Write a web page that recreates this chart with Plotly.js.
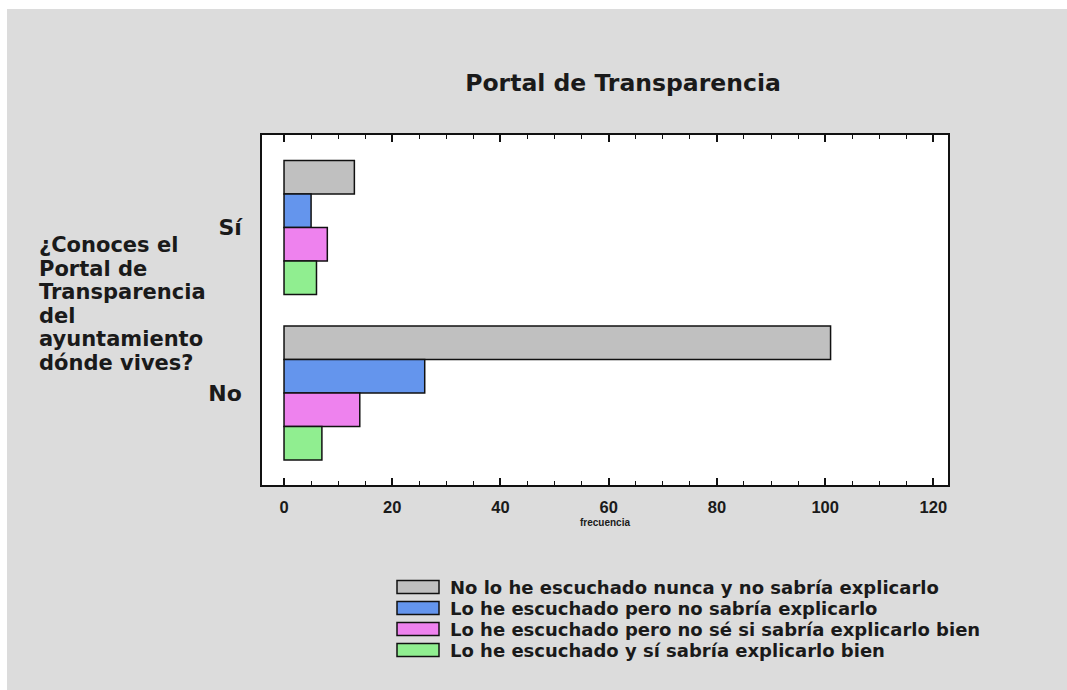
<!DOCTYPE html>
<html>
<head>
<meta charset="utf-8">
<script src="https://cdn.plot.ly/plotly-3.0.1.min.js"></script>
<style>html,body{margin:0;padding:0;background:#fff;}</style>
</head>
<body>
<div id="chart" style="width:1067px;height:690px;"></div>
<script>
// ---- data ----
const categories = ['Sí', 'No'];
const seriesNames = [
  'No lo he escuchado nunca y no sabría explicarlo',
  'Lo he escuchado pero no sabría explicarlo',
  'Lo he escuchado pero no sé si sabría explicarlo bien',
  'Lo he escuchado y sí sabría explicarlo bien'
];
const nuncaValues = [13, 101];
const noSabriaValues = [5, 26];
const noSeValues = [8, 14];
const siSabriaValues = [6, 7];
const seriesColors = ['#c0c0c0', '#6495ed', '#ee82ee', '#90ee90'];
const xTickValues = [0, 20, 40, 60, 80, 100, 120];
const chartTitle = 'Portal de Transparencia';
const xTitle = 'frecuencia';
const yTitleLines = ['¿Conoces el', 'Portal de', 'Transparencia', 'del', 'ayuntamiento', 'dónde vives?'];

const seriesValues = [nuncaValues, noSabriaValues, noSeValues, siSabriaValues];

// ---- layout helpers (pixel -> paper) ----
const W = 1067, H = 690;
const L = 262, R = 948, T = 135, B = 485;
const pw = R - L, ph = B - T;
const px = x => (x - L) / pw;
const py = y => (B - y) / ph;

const traces = seriesValues.map((vals, i) => ({
  type: 'bar',
  orientation: 'h',
  name: seriesNames[i],
  y: categories,
  x: vals,
  marker: {color: seriesColors[i], line: {color: '#111', width: 1.5}},
  showlegend: false,
  hoverinfo: 'x+y+name'
}));

const shapes = [
  {type: 'rect', xref: 'paper', yref: 'paper', x0: px(0), x1: px(7), y0: py(H), y1: py(0), fillcolor: '#ffffff', line: {width: 0}, layer: 'below'},
  {type: 'rect', xref: 'paper', yref: 'paper', x0: px(0), x1: px(W), y0: py(9), y1: py(0), fillcolor: '#ffffff', line: {width: 0}, layer: 'below'}
];
const annotations = [];

yTitleLines.forEach((t, i) => {
  annotations.push({
    xref: 'paper', yref: 'paper', x: px(37), y: py(245 + i * 23.6),
    xanchor: 'left', yanchor: 'middle', showarrow: false, text: t,
    font: {family: 'DejaVu Sans', size: 21, weight: 'bold', color: '#1a1a1a'}
  });
});

// custom legend
seriesNames.forEach((n, i) => {
  const cy = 587 + i * 21;
  shapes.push({
    type: 'rect', xref: 'paper', yref: 'paper',
    x0: px(397), x1: px(439), y0: py(cy + 6.5), y1: py(cy - 6.5),
    fillcolor: seriesColors[i], line: {color: '#111', width: 1.5}
  });
  annotations.push({
    xref: 'paper', yref: 'paper', x: px(448), y: py(cy),
    xanchor: 'left', yanchor: 'middle', showarrow: false, text: n,
    font: {family: 'DejaVu Sans', size: 18, weight: 'bold', color: '#1a1a1a'}
  });
});

const layout = {
  width: W, height: H,
  margin: {l: L, r: W - R, t: T, b: H - B, pad: 0},
  paper_bgcolor: '#dcdcdc',
  plot_bgcolor: '#ffffff',
  showlegend: false,
  barmode: 'group',
  bargap: 0.19,
  bargroupgap: 0,
  title: {
    text: chartTitle,
    xref: 'paper', x: px(623), xanchor: 'center',
    yref: 'container', y: 1 - 83 / H, yanchor: 'middle',
    font: {family: 'DejaVu Sans', size: 23.5, weight: 'bold', color: '#1a1a1a'}
  },
  xaxis: {
    range: [-4.07, 122.7],
    tickvals: xTickValues,
    ticktext: xTickValues.map(String),
    ticks: 'inside', ticklen: 7, tickwidth: 1.5, tickcolor: '#111',
    minor: {dtick: 5, tick0: 0, ticks: 'inside', ticklen: 4, tickwidth: 1.2, tickcolor: '#111', showgrid: false},
    showline: true, linecolor: '#111', linewidth: 1.5, mirror: 'ticks',
    showgrid: false, zeroline: false,
    ticklabelstandoff: 6,
    tickfont: {family: 'Liberation Sans', size: 16.5, weight: 'bold', color: '#1a1a1a'},
    title: {text: xTitle, standoff: 4, font: {family: 'Liberation Sans', size: 10, weight: 'bold', color: '#1a1a1a'}},
    fixedrange: true
  },
  yaxis: {
    type: 'category',
    categoryorder: 'array', categoryarray: categories,
    range: [1.556, -0.559],
    ticks: '', showline: true, linecolor: '#111', linewidth: 1.5, mirror: true,
    showgrid: false, zeroline: false,
    ticklabelstandoff: 14,
    tickfont: {family: 'DejaVu Sans', size: 22, weight: 'bold', color: '#1a1a1a'},
    fixedrange: true
  },
  shapes: shapes,
  annotations: annotations
};

Plotly.newPlot('chart', traces, layout, {displayModeBar: false, staticPlot: false});
</script>
</body>
</html>
